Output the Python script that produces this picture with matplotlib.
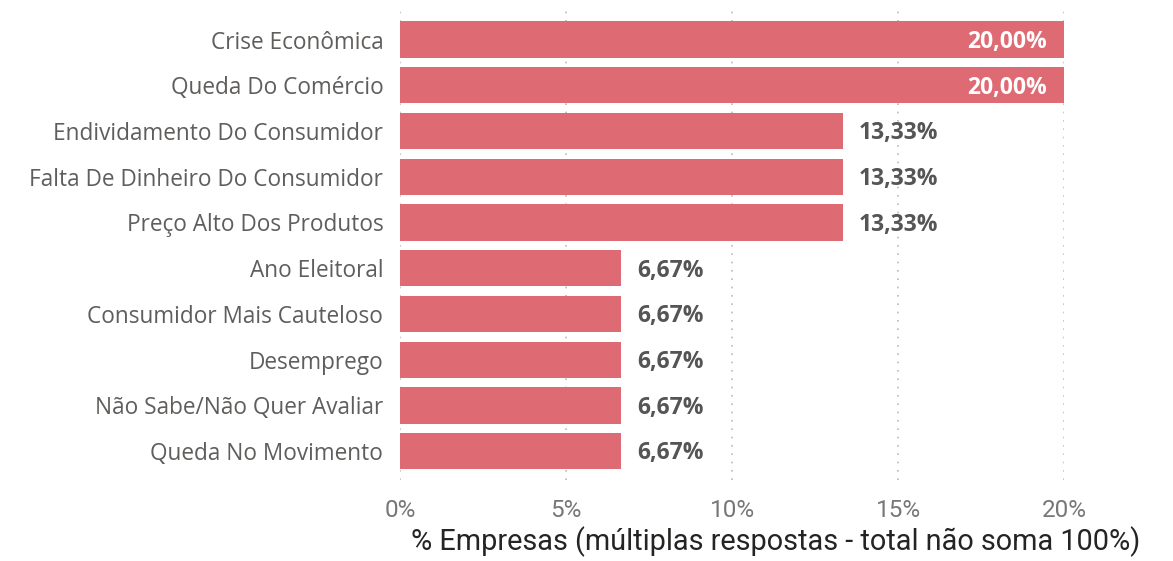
import matplotlib.pyplot as plt

categorias = [
    "Crise Econômica",
    "Queda Do Comércio",
    "Endividamento Do Consumidor",
    "Falta De Dinheiro Do Consumidor",
    "Preço Alto Dos Produtos",
    "Ano Eleitoral",
    "Consumidor Mais Cauteloso",
    "Desemprego",
    "Não Sabe/Não Quer Avaliar",
    "Queda No Movimento",
]
valores = [20.00, 20.00, 13.33, 13.33, 13.33, 6.67, 6.67, 6.67, 6.67, 6.67]
ticks = [0, 5, 10, 15, 20]
tick_labels = ["0%", "5%", "10%", "15%", "20%"]

cor_barra = "#DE6B74"
cor_texto = "#605E5C"

fig = plt.figure(figsize=(11.73, 5.61), dpi=100)
ax = fig.add_axes([400 / 1173, 1 - 480 / 561, (1064 - 400) / 1173, (480 - 5) / 561])

y = list(range(len(categorias)))
ax.barh(y, valores, height=0.79, color=cor_barra, zorder=2)

ax.set_xlim(0, 20)
ax.set_ylim(9.63, -0.755)

ax.set_yticks(y)
ax.set_yticklabels(categorias, fontsize=16.3, color=cor_texto, family=["Open Sans", "DejaVu Sans"])
ax.tick_params(axis="y", length=0, pad=12)

ax.set_xticks(ticks)
ax.set_xticklabels(tick_labels, fontsize=17.5, color="#777777", family=["Roboto", "DejaVu Sans"])
ax.tick_params(axis="x", length=0, pad=14)

ax.grid(axis="x", color="#BBBBBB", linestyle=(0, (1, 4)), linewidth=1.2, zorder=0)
for s in ax.spines.values():
    s.set_visible(False)

for yi, v in zip(y, valores):
    txt = f"{v:.2f}%".replace(".", ",")
    if v >= 20:
        ax.text(v - 0.5, yi + 0.05, txt, ha="right", va="center", fontsize=16.5,
                fontweight="bold", color="white", family=["Open Sans", "DejaVu Sans"])
    else:
        ax.text(v + 0.48, yi + 0.05, txt, ha="left", va="center", fontsize=16.5,
                fontweight="bold", color="#555555", family=["Open Sans", "DejaVu Sans"])

fig.text(1140 / 1173, 4 / 561, "% Empresas (múltiplas respostas - total não soma 100%)",
         ha="right", va="bottom", fontsize=20.8, color="#252423", family=["Roboto", "DejaVu Sans"])

plt.savefig("out.png", dpi=100)
